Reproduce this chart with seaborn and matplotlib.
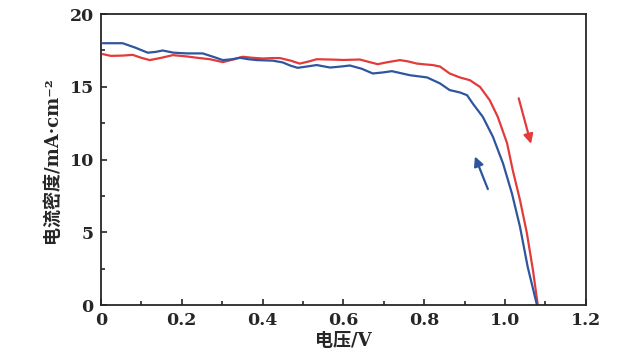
import matplotlib
matplotlib.use("Agg")
from matplotlib import pyplot as plt
from matplotlib.ticker import MultipleLocator
import pandas as pd
import seaborn as sns

# forward scan (red)
v_fwd = [0.005, 0.025, 0.054, 0.079, 0.100, 0.121, 0.150, 0.178, 0.210, 0.238,
         0.270, 0.302, 0.330, 0.351, 0.375, 0.401, 0.425, 0.443, 0.470, 0.492,
         0.515, 0.534, 0.567, 0.600, 0.641, 0.665, 0.685, 0.710, 0.740, 0.760,
         0.782, 0.800, 0.821, 0.839, 0.863, 0.888, 0.913, 0.938, 0.962, 0.982,
         1.005, 1.019, 1.037, 1.054, 1.069, 1.081]
j_fwd = [17.25, 17.13, 17.15, 17.2, 17.0, 16.84, 17.0, 17.18, 17.1, 17.0,
         16.9, 16.7, 16.9, 17.07, 17.0, 16.95, 16.98, 16.98, 16.8, 16.6,
         16.75, 16.9, 16.88, 16.85, 16.88, 16.7, 16.56, 16.7, 16.84, 16.75,
         16.6, 16.55, 16.5, 16.4, 15.92, 15.65, 15.46, 15.0, 14.09, 12.94,
         11.13, 9.28, 7.22, 4.95, 2.41, 0.0]

# reverse scan (blue)
v_rev = [0.005, 0.030, 0.054, 0.085, 0.116, 0.135, 0.153, 0.180, 0.213, 0.252,
         0.280, 0.302, 0.325, 0.344, 0.365, 0.386, 0.426, 0.450, 0.470, 0.487,
         0.510, 0.534, 0.567, 0.595, 0.616, 0.645, 0.673, 0.700, 0.720, 0.765,
         0.807, 0.839, 0.863, 0.888, 0.906, 0.920, 0.945, 0.970, 0.995, 1.017,
         1.037, 1.056, 1.079]
j_rev = [18.0, 18.0, 18.0, 17.7, 17.35, 17.4, 17.5, 17.35, 17.3, 17.3,
         17.05, 16.84, 16.9, 17.0, 16.9, 16.84, 16.8, 16.68, 16.45, 16.31,
         16.4, 16.5, 16.33, 16.4, 16.47, 16.25, 15.92, 16.0, 16.08, 15.8,
         15.65, 15.24, 14.78, 14.62, 14.43, 13.86, 12.94, 11.57, 9.74, 7.68,
         5.38, 2.63, 0.0]

red = '#E23B3B'
blue = '#2F559E'

df = pd.concat([
    pd.DataFrame({'V': v_fwd, 'J': j_fwd, 'scan': 'fwd'}),
    pd.DataFrame({'V': v_rev, 'J': j_rev, 'scan': 'rev'}),
], ignore_index=True)

sns.set_style('ticks')
plt.rcParams['font.family'] = ['DejaVu Serif', 'Noto Sans CJK SC']

fig = plt.figure(figsize=(6.3, 3.62), dpi=100)
ax = fig.add_axes([0.160, 0.157, 0.770, 0.804])

sns.lineplot(data=df, x='V', y='J', hue='scan', palette={'fwd': red, 'rev': blue},
             linewidth=1.6, legend=False, ax=ax, sort=False)

ax.annotate('', xy=(1.066, 10.9), xytext=(1.032, 14.4),
            arrowprops=dict(arrowstyle='-|>', color=red, lw=1.6, mutation_scale=14))
ax.annotate('', xy=(0.923, 10.4), xytext=(0.960, 7.8),
            arrowprops=dict(arrowstyle='-|>', color=blue, lw=1.6, mutation_scale=14))

ax.set_xlim(0, 1.2)
ax.set_ylim(0, 20)
ax.xaxis.set_major_locator(MultipleLocator(0.2))
ax.xaxis.set_minor_locator(MultipleLocator(0.1))
ax.yaxis.set_major_locator(MultipleLocator(5))
ax.yaxis.set_minor_locator(MultipleLocator(2.5))
ax.set_xticks([0, 0.2, 0.4, 0.6, 0.8, 1.0, 1.2])
ax.set_xticklabels(['0', '0.2', '0.4', '0.6', '0.8', '1.0', '1.2'])
ax.tick_params(which='both', direction='in', labelsize=12.5, width=1.2)
ax.tick_params(which='major', length=4, pad=5)
ax.tick_params(which='minor', length=3)
for s in ax.spines.values():
    s.set_linewidth(1.3)

ax.set_xlabel('电压/V', fontsize=13, fontweight='bold', labelpad=2)
ax.set_ylabel('电流密度/mA·cm⁻²', fontsize=13, fontweight='bold', labelpad=6)
for lab in ax.get_xticklabels() + ax.get_yticklabels():
    lab.set_fontweight('bold')

fig.savefig('out.png', dpi=100)
